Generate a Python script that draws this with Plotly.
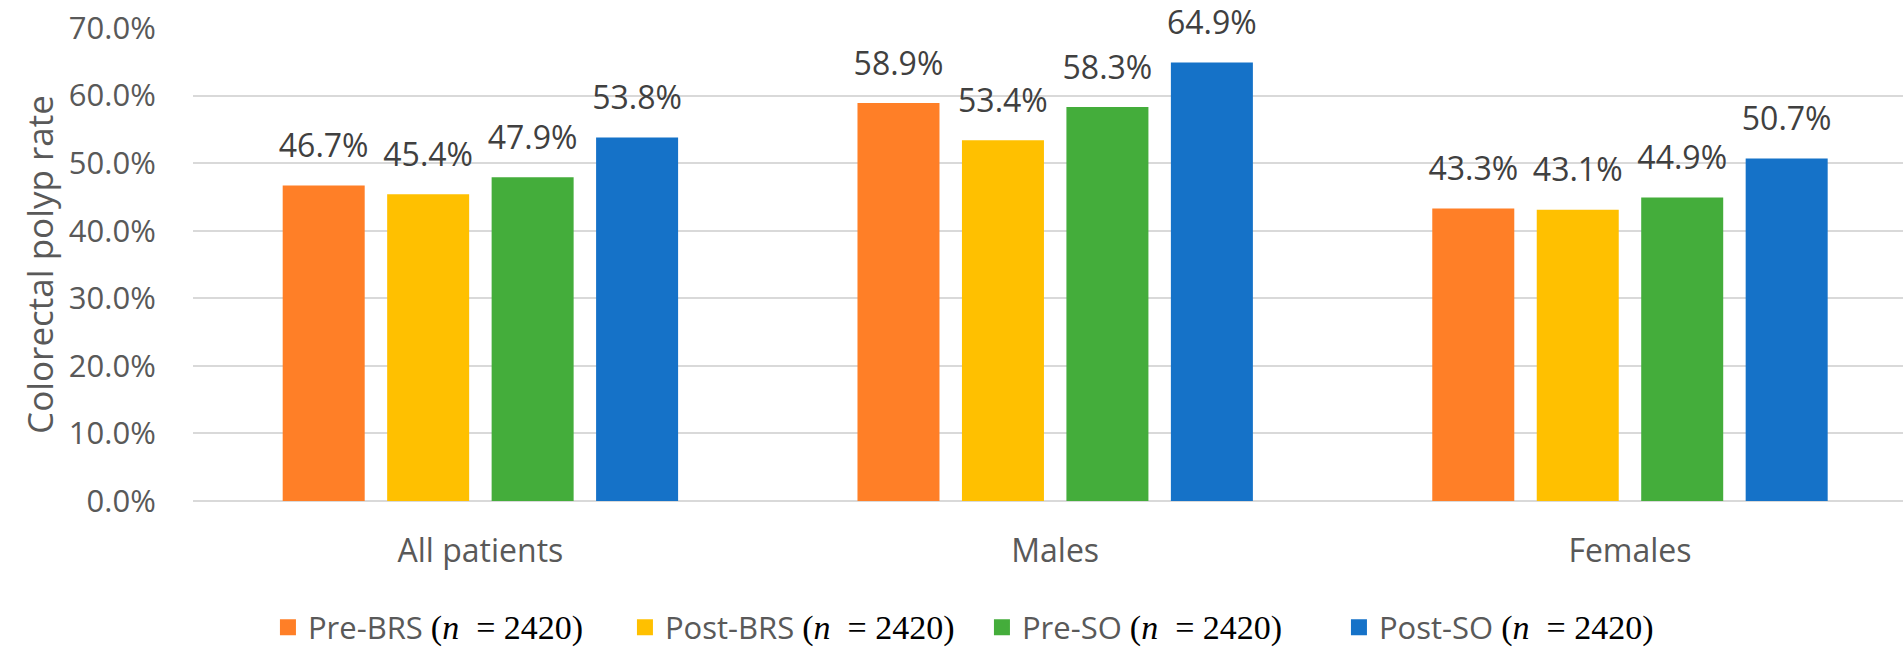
import plotly.graph_objects as go

# Colorectal polyp rates (%) by patient group and period
categories = ["All patients", "Males", "Females"]
series_names = ["Pre-BRS", "Post-BRS", "Pre-SO", "Post-SO"]
n_patients = [2420, 2420, 2420, 2420]
pre_brs = [46.7, 58.9, 43.3]
post_brs = [45.4, 53.4, 43.1]
pre_so = [47.9, 58.3, 44.9]
post_so = [53.8, 64.9, 50.7]
y_ticks = [0, 10, 20, 30, 40, 50, 60, 70]

series_values = [pre_brs, post_brs, pre_so, post_so]
colors = ["#FF7F27", "#FFC000", "#44AD3B", "#1572C8"]

SANS = "Open Sans"
GREY = "#595959"

fig = go.Figure()

for name, vals, col in zip(series_names, series_values, colors):
    fig.add_trace(go.Bar(
        x=categories, y=vals, name=name,
        marker=dict(color=col, line=dict(width=0)),
        showlegend=False, hoverinfo="x+y",
    ))

# value labels, grouped the same way as the bars
for name, vals in zip(series_names, series_values):
    fig.add_trace(go.Scatter(
        x=categories, y=vals, mode="markers+text",
        text=[f"{v:.1f}%" for v in vals], textposition="top center",
        textfont=dict(family=SANS, size=32, color="#404040"),
        marker=dict(size=31, opacity=0, color="rgba(0,0,0,0)"),
        showlegend=False, hoverinfo="skip", cliponaxis=False,
    ))

# legend entries (on a hidden axis pair so they don't take group slots)
for name, n, col in zip(series_names, n_patients, colors):
    label = (f"{name} <span style=\"font-family:Liberation Serif;font-size:34px;fill:#000000\">"
             f"(<i>n</i>  = {n})</span>")
    fig.add_trace(go.Scatter(
        x=[None], y=[None], xaxis="x2", yaxis="y2", mode="markers",
        name=label, marker=dict(symbol="square", size=16, color=col),
        showlegend=True, hoverinfo="skip",
    ))

fig.update_layout(
    width=1903, height=647,
    margin=dict(l=193, r=0, t=28, b=146),
    paper_bgcolor="white", plot_bgcolor="white",
    barmode="group", bargap=0.273, bargroupgap=0.215,
    scattermode="group", scattergap=0.273,
    font=dict(family=SANS, color=GREY),
    legend=dict(
        orientation="h", xref="container", yref="container",
        x=0.516, xanchor="center", y=0.03, yanchor="middle",
        font=dict(family=SANS, size=31, color=GREY),
        itemsizing="trace", bgcolor="rgba(0,0,0,0)",
        entrywidth=312, entrywidthmode="pixels",
    ),
    xaxis=dict(
        type="category", range=[-0.5, 2.475],
        showgrid=False, showline=False, zeroline=False,
        ticks="outside", ticklen=22, tickcolor="rgba(0,0,0,0)",
        tickfont=dict(family=SANS, size=32, color=GREY),
    ),
    yaxis=dict(
        range=[0, 70], tickvals=y_ticks,
        ticktext=[f"{t:.1f}%" for t in y_ticks],
        showgrid=True, gridcolor="#D9D9D9", gridwidth=2,
        zeroline=True, zerolinecolor="#D9D9D9", zerolinewidth=2,
        showline=False,
        ticks="outside", ticklen=30, tickcolor="rgba(0,0,0,0)",
        tickfont=dict(family=SANS, size=31, color=GREY),
        title=dict(text="Colorectal polyp rate",
                   font=dict(family=SANS, size=35, color=GREY), standoff=4),
    ),
    xaxis2=dict(visible=False, overlaying="x", range=[0, 1]),
    yaxis2=dict(visible=False, overlaying="y", range=[0, 1]),
)

fig.write_html("out.html")
